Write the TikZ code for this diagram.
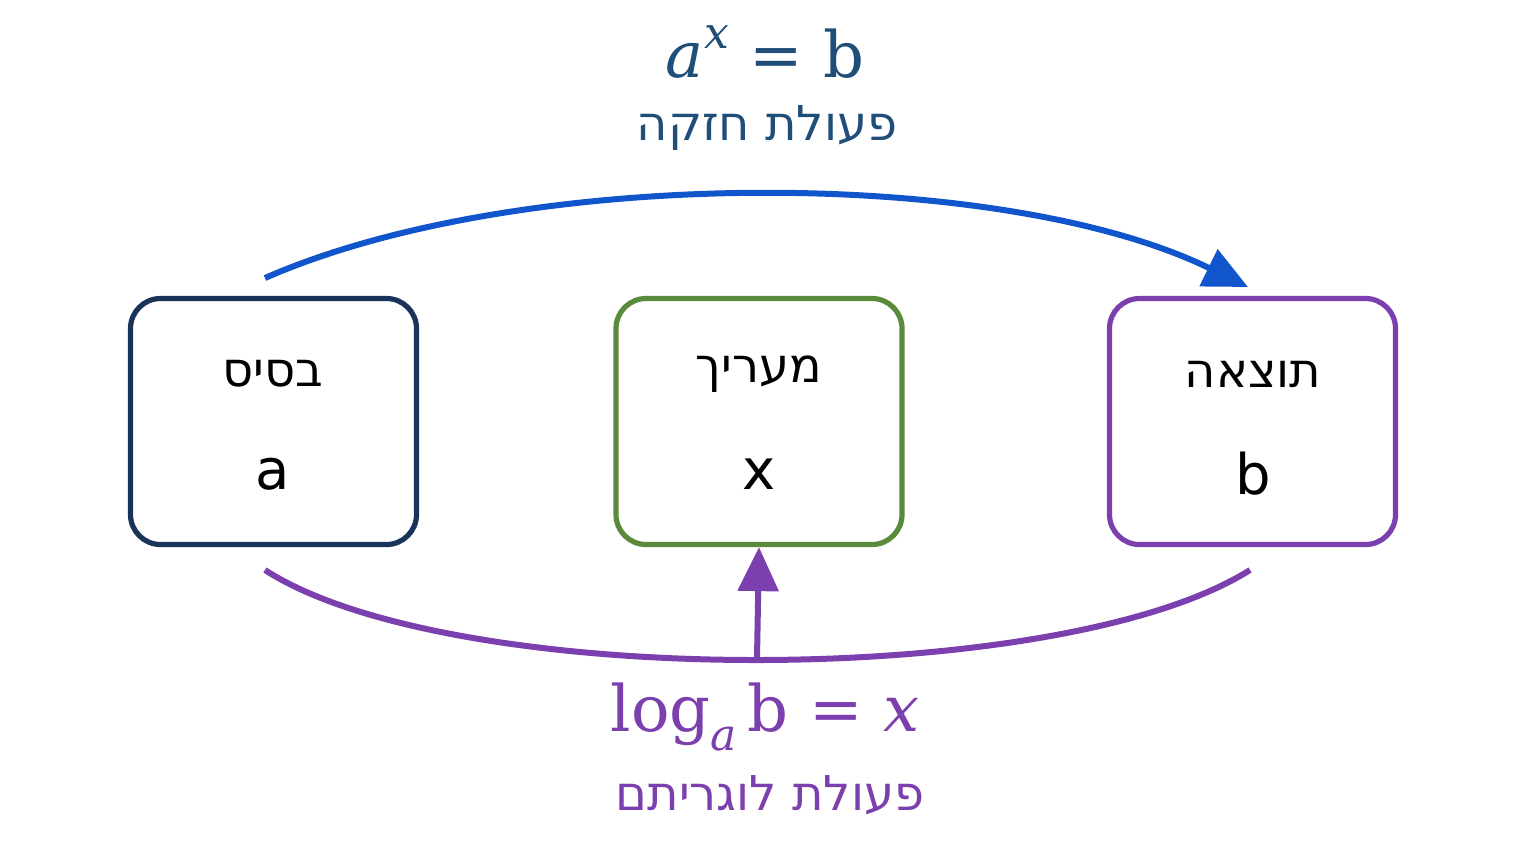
\documentclass[tikz,border=0pt]{standalone}
\usepackage{fontspec}
\newfontfamily\heb{DejaVu Sans}
\newfontfamily\mser{DejaVu Serif}
\usetikzlibrary{arrows.meta}
\definecolor{navy}{HTML}{1A3358}
\definecolor{grn}{HTML}{5A8A3C}
\definecolor{purp}{HTML}{7B3FAE}
\definecolor{blu}{HTML}{1155CC}
\definecolor{dblu}{HTML}{1F4E79}
\begin{document}
\begin{tikzpicture}[x=0.5pt,y=-0.5pt,
  box/.style={draw,line width=2.6pt,rounded corners=15pt,minimum width=143pt,minimum height=123pt,fill=white},
  htxt/.style={font=\heb\fontsize{24}{28}\selectfont},
  vtxt/.style={font=\heb\fontsize{28}{32}\selectfont},
  eq/.style={font=\mser\fontsize{32}{36}\selectfont}]
\useasboundingbox[fill=white] (0,0) rectangle (1536,864);
\node[box,draw=navy] (A) at (273.5,421.5) {};
\node[box,draw=grn] (X) at (759,421.5) {};
\node[box,draw=purp] (B) at (1252.5,421.5) {};
\node[htxt] (A1) at (273,374) {בסיס};
\node[vtxt] (A2) at (273,474) {a};
\node[htxt] (X1) at (759,374) {מעריך};
\node[vtxt] (X2) at (759,474) {x};
\node[htxt] (B1) at (1253,374) {תוצאה};
\node[vtxt] (B2) at (1253,474) {b};
\node[text=dblu,eq] (e1) at (765,52) {\textit{a}\raisebox{0.45em}{\fontsize{22}{24}\selectfont\textit{x}} = b};
\node[text=dblu,htxt] (t1) at (767,128) {חזקה פעולת};
\node[text=purp,eq] (e2) at (765,717) {log\raisebox{-0.3em}{\fontsize{22}{24}\selectfont\textit{a}}\,b = \textit{x}};
\node[text=purp,htxt] (t2) at (770,795) {לוגריתם פעולת};
\coordinate (s1) at (265,278);
\coordinate (e1t) at (1248,287);
\coordinate (s2) at (265,570);
\coordinate (s3) at (1250,570);
\coordinate (m) at (757,658);
\draw[blu,line width=3pt,-{Triangle[length=22pt,width=20pt]}] (s1) .. controls (520,166) and (1000,166) .. (e1t);
\draw[purp,line width=3pt] (s2) .. controls (450,690) and (1060,690) .. (s3);
\draw[purp,line width=3pt,-{Triangle[length=22pt,width=20pt]}] (m) -- (X.south);
\end{tikzpicture}
\end{document}
